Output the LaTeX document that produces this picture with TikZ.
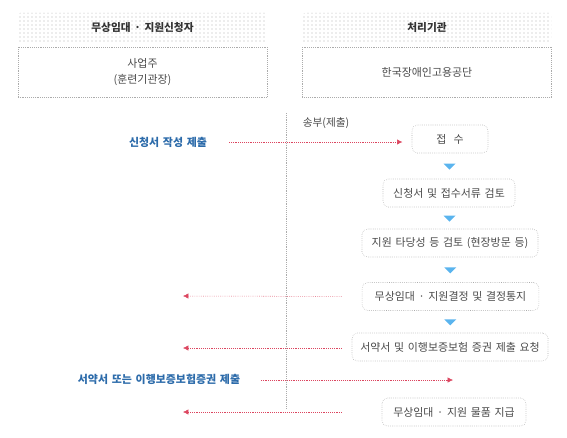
\documentclass[tikz,border=0pt]{standalone}
\usepackage{fontspec}
\setmainfont{Noto Sans CJK KR}[WordSpace=1.5]
\usetikzlibrary{arrows.meta,patterns,shapes.geometric}

\definecolor{txtgray}{HTML}{4A4A4A}
\definecolor{boxgray}{HTML}{ABABAB}
\definecolor{flowblue}{HTML}{2C6BAA}
\definecolor{flowred}{HTML}{DC4660}
\definecolor{triblue}{HTML}{5AB4EE}

\tikzset{
  head/.style={pattern=dots, pattern color=gray!60, rounded corners=2pt,
    minimum width=187pt, minimum height=22pt, font=\fontsize{8}{9}\selectfont\bfseries, text=black!80},
  body/.style={draw=boxgray, densely dotted, minimum width=187pt, minimum height=37.5pt,
    font=\fontsize{8.2}{12}\selectfont, text=txtgray, align=center},
  proc/.style={draw=boxgray, densely dotted, rounded corners=4pt, minimum height=21pt,
    font=\fontsize{8.2}{9}\selectfont, text=txtgray, inner sep=0pt},
  act/.style={font=\fontsize{8.2}{9}\selectfont\bfseries, text=flowblue},
  tri/.style={isosceles triangle, isosceles triangle apex angle=90, shape border rotate=270,
    fill=triblue, inner sep=0pt, minimum height=4.5pt},
  send/.style={draw=flowred, densely dotted, -{Latex[length=4pt,width=4pt]}}
}

\begin{document}
\begin{tikzpicture}[x=0.75pt,y=-0.75pt]
\useasboundingbox (0,0) rectangle (567,437);

% headers
\node[head] (hleft) at (142.5,27.5) {무상임대 · 지원신청자};
\node[head] (hright) at (427,27.5) {처리기관};
\node[body] (bleft) at (142.5,72) {사업주\\(훈련기관장)};
\node[body] (bright) at (427,72) {한국장애인고용공단};

% middle line
\coordinate (vtop) at (286,113);
\coordinate (vbot) at (286,408);
\draw[boxgray, densely dotted] (vtop) -- (vbot);
\node[font=\fontsize{8}{9}\selectfont, text=txtgray] (songbu) at (326,123) {송부(제출)};

% process
\node[proc, minimum width=57pt] (jeobsu) at (450,139) {접\ \ 수};
\node[proc, minimum width=99pt] (geomto) at (449,193) {신청서 및 접수서류 검토};
\node[proc, minimum width=132pt] (tadang) at (450,243) {지원 타당성 등 검토 (현장방문 등)};
\node[proc, minimum width=132.5pt] (gyeoljeong) at (450.5,296.5) {무상임대 · 지원결정 및 결정통지};
\node[proc, minimum width=147pt] (yocheong) at (450,347) {서약서 및 이행보증보험 증권 제출 요청};
\node[proc, minimum width=108pt] (jigeup) at (454,412) {무상임대 · 지원 물품 지급};

\foreach \a/\b in {jeobsu/geomto,geomto/tadang,tadang/gyeoljeong,gyeoljeong/yocheong}
  \path (\a.south) -- (\b.north) node[tri, midway] {};

% applicant side
\node[act] (sincheong) at (168,142) {신청서 작성 제출};
\node[act] (seoyak) at (159,379) {서약서 또는 이행보증보험증권 제출};

\coordinate (back1) at (183,296);
\coordinate (back2) at (183,348);
\coordinate (back3) at (183,412);
\coordinate (fwd) at (453,380);

\draw[send, shorten <=13pt, shorten >=7pt] (sincheong.east) -- (jeobsu.west|-sincheong.east);
\draw[send, shorten <=15pt] (gyeoljeong.west) -- (back1);
\draw[send, shorten <=7.5pt] (yocheong.west|-back2) -- (back2);
\draw[send, shorten <=30pt] (jigeup.west) -- (back3);
\draw[send, shorten <=12pt] (seoyak.east|-fwd) -- (fwd);

\end{tikzpicture}
\end{document}
